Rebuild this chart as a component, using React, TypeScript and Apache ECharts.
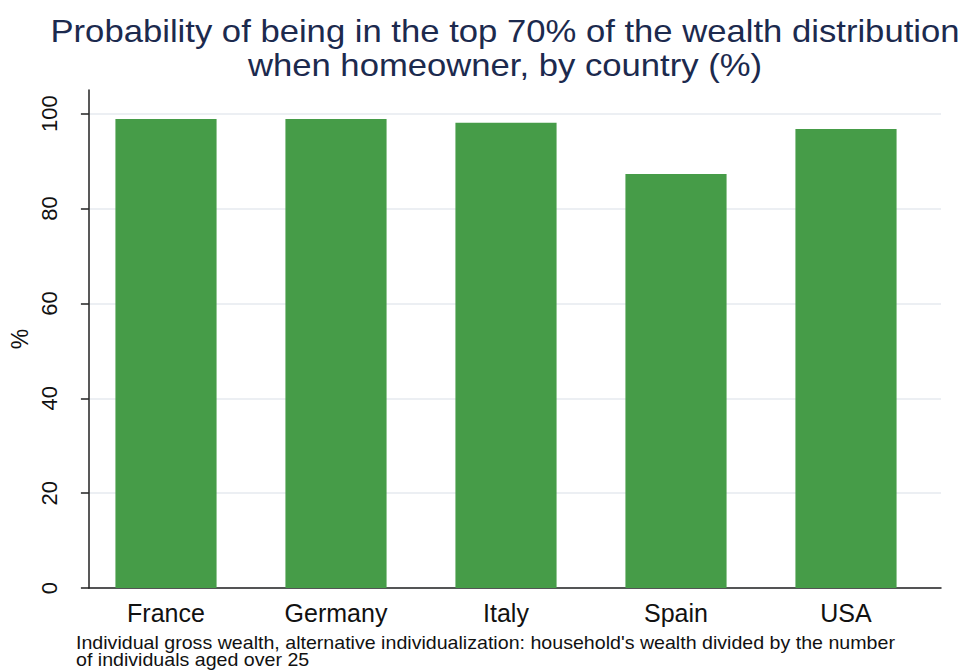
import React, { useEffect, useRef } from "react";
import * as echarts from "echarts";

const categories = ["France", "Germany", "Italy", "Spain", "USA"];
const values = [98.9, 98.9, 98.1, 87.3, 96.8];
const yTicks = [0, 20, 40, 60, 80, 100];
const titleText = "Probability of being in the top 70% of the wealth distribution\nwhen homeowner, by country (%)";
const noteLines = [
  "Individual gross wealth, alternative individualization: household's wealth divided by the number",
  "of individuals aged over 25",
];

const FONT = "'Liberation Sans', Arial, sans-serif";

export default function App() {
  const ref = useRef<HTMLDivElement>(null);
  useEffect(() => {
    if (!ref.current) return;
    const chart = echarts.init(ref.current, undefined, { renderer: "svg" });
    const top = 90;
    const bottom = 83;
    chart.setOption({
      animation: false,
      backgroundColor: "#ffffff",
      textStyle: { fontFamily: FONT },
      graphic: [
        {
          type: "text",
          x: 505,
          y: 14,
          scaleX: 1.083,
          style: {
            text: titleText,
            fontFamily: FONT,
            fontSize: 32,
            lineHeight: 34,
            fill: "#1c2a4e",
            textAlign: "center",
            textVerticalAlign: "top",
          },
        },
        ...noteLines.map((t, i) => ({
          type: "text",
          x: 76,
          y: 634 + i * 17.5,
          scaleX: 1.09,
          style: {
            text: t,
            fontFamily: FONT,
            fontSize: 18,
            lineHeight: 17,
            fill: "#111111",
            textAlign: "left",
            textVerticalAlign: "top",
          },
        })),
      ],
      grid: [
        { left: 70, right: 21, top, bottom, containLabel: false },
        { left: 81, right: 31, top, bottom, containLabel: false },
      ],
      xAxis: [
        {
          gridIndex: 0,
          type: "value",
          min: 0,
          max: 1,
          axisLine: { show: true, lineStyle: { color: "#222222", width: 1.5 } },
          axisTick: { show: false },
          axisLabel: { show: false },
          splitLine: { show: false },
        },
        {
          gridIndex: 1,
          type: "category",
          data: categories,
          axisLine: { show: false },
          axisTick: { show: false },
          axisLabel: { fontFamily: FONT, fontSize: 25, color: "#111111", margin: 12 },
        },
      ],
      yAxis: [
        {
          gridIndex: 0,
          type: "value",
          min: 0,
          max: 105,
          name: "%",
          nameLocation: "middle",
          nameGap: 48,
          nameTextStyle: { fontFamily: FONT, fontSize: 23, color: "#111111" },
          axisLine: { show: true, lineStyle: { color: "#222222", width: 1.5 } },
          axisTick: { show: true, length: 8, customValues: yTicks, lineStyle: { color: "#222222", width: 1.5 } },
          axisLabel: { customValues: yTicks, rotate: 90, fontFamily: FONT, fontSize: 22, color: "#111111", margin: 28 },
          splitLine: { show: true, lineStyle: { color: "#e6eaef", width: 1.5 } },
        },
        {
          gridIndex: 1,
          type: "value",
          min: 0,
          max: 105,
          axisLine: { show: false },
          axisTick: { show: false },
          axisLabel: { show: false },
          splitLine: { show: false },
        },
      ],
      series: [
        {
          type: "bar",
          xAxisIndex: 1,
          yAxisIndex: 1,
          data: values,
          barWidth: "59.5%",
          itemStyle: { color: "#469c48" },
        },
      ],
    });
    return () => chart.dispose();
  }, []);
  return (
    <div
      ref={ref}
      style={{ position: "fixed", left: 0, top: 0, width: 962, height: 671 }}
    />
  );
}
